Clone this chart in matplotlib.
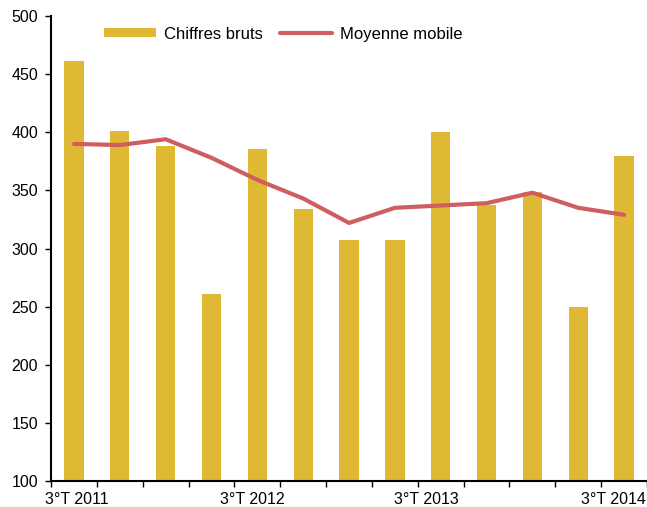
import numpy as np
import matplotlib
matplotlib.use("Agg")
import matplotlib.pyplot as plt

plt.rcParams["font.family"] = ["Liberation Sans", "DejaVu Sans"]

quarters = ["3°T 2011", "4°T 2011", "1°T 2012", "2°T 2012", "3°T 2012", "4°T 2012",
            "1°T 2013", "2°T 2013", "3°T 2013", "4°T 2013", "1°T 2014", "2°T 2014",
            "3°T 2014"]
chiffres_bruts = [461, 401, 388, 261, 386, 334, 307, 307, 400, 337, 349, 250, 380]
moyenne_mobile = [390, 389, 394, 378, 359, 343, 322, 335, 337, 339, 348, 335, 329]
label_text = ["3°T 2011", "3°T 2012", "3°T 2013", "3°T 2014"]
label_pos = [0.06, 3.9, 7.69, 11.77]

bar_color = "#E0B934"
line_color = "#CF5E5E"

fig = plt.figure(figsize=(6.47, 5.07), dpi=100)
ax = fig.add_axes([0.079, 0.0513, 0.921, 0.9171])

x = np.arange(len(quarters))
bars = ax.bar(x, chiffres_bruts, width=0.42, color=bar_color, label="Chiffres bruts", zorder=2)
line, = ax.plot(x, moyenne_mobile, color=line_color, lw=3, solid_capstyle="round",
                label="Moyenne mobile", zorder=3)

ax.set_ylim(100, 500)
ax.set_xlim(-0.5, len(quarters) - 0.5)
ax.set_yticks(range(100, 501, 50))

ax.set_xticks(label_pos)
ax.set_xticklabels(label_text)
ax.tick_params(axis="x", which="major", length=0, pad=8)
ax.set_xticks(np.arange(-0.5, len(quarters)), minor=True)
ax.tick_params(axis="x", which="minor", length=4.5, width=1, direction="out", color="black")
ax.tick_params(axis="y", length=4.5, width=1, direction="out", pad=5)
ax.tick_params(labelsize=11.5, labelcolor="black")

for s in ["top", "right"]:
    ax.spines[s].set_visible(False)
for s in ["left", "bottom"]:
    ax.spines[s].set_linewidth(1.5)

ax.legend([bars, line], ["Chiffres bruts", "Moyenne mobile"],
          loc="center", bbox_to_anchor=(0.39, 0.961), ncol=2, frameon=False,
          fontsize=12, handlelength=3.1, handleheight=0.5, handletextpad=0.5,
          columnspacing=1.0)

fig.savefig("out.png", dpi=100)
